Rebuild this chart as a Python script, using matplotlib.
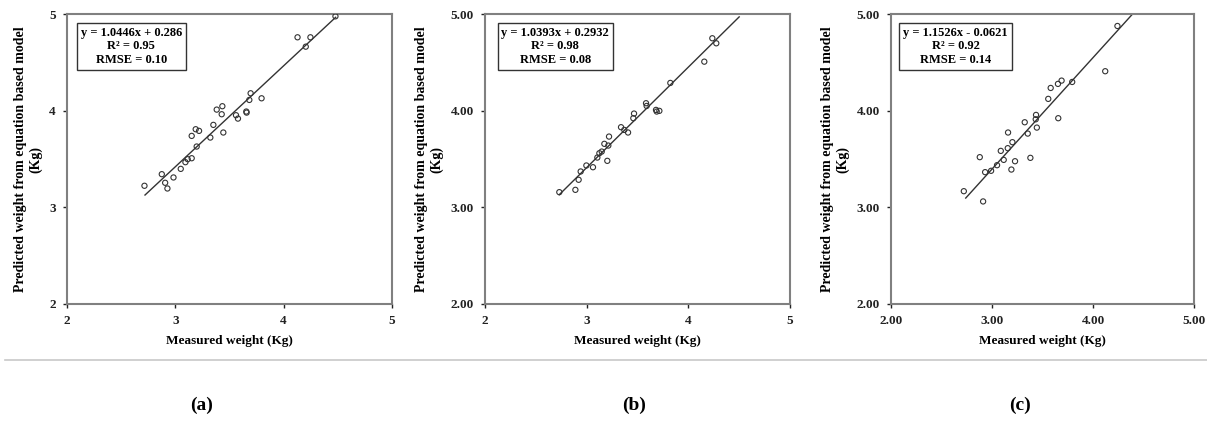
import matplotlib
matplotlib.use("Agg")
import matplotlib.pyplot as plt
from matplotlib.lines import Line2D
from matplotlib.ticker import FormatStrFormatter

plt.rcParams['font.family'] = ['Liberation Serif', 'DejaVu Serif']
plt.rcParams['font.weight'] = 'bold'

# (a) measured vs predicted
meas_a = [2.715, 2.875, 2.906, 2.927, 2.983, 3.050, 3.093, 3.114, 3.151, 3.151,
          3.188, 3.219, 3.197, 3.323, 3.351, 3.382, 3.434, 3.428, 3.443, 3.560,
          3.578, 3.655, 3.658, 3.683, 3.695, 3.796, 4.128, 4.204, 4.247, 4.478]
pred_a = [3.223, 3.343, 3.254, 3.195, 3.309, 3.398, 3.467, 3.498, 3.508, 3.739,
          3.808, 3.791, 3.629, 3.722, 3.853, 4.011, 4.046, 3.963, 3.774, 3.953,
          3.918, 3.991, 3.980, 4.111, 4.180, 4.128, 4.759, 4.662, 4.759, 4.976]

# (b)
meas_b = [2.731, 2.889, 2.921, 2.941, 2.997, 3.062, 3.105, 3.125, 3.148, 3.174,
          3.213, 3.203, 3.220, 3.338, 3.370, 3.407, 3.459, 3.466, 3.584, 3.590,
          3.682, 3.689, 3.715, 3.823, 4.157, 4.236, 4.275]
pred_b = [3.157, 3.181, 3.285, 3.371, 3.433, 3.415, 3.515, 3.560, 3.577, 3.657,
          3.639, 3.481, 3.732, 3.829, 3.801, 3.774, 3.922, 3.970, 4.077, 4.049,
          4.008, 3.991, 3.998, 4.287, 4.507, 4.749, 4.697]

# (c)
meas_c = [2.721, 2.879, 2.912, 2.932, 2.991, 3.050, 3.087, 3.116, 3.156, 3.159,
          3.202, 3.192, 3.228, 3.324, 3.354, 3.380, 3.436, 3.444, 3.433, 3.557,
          3.581, 3.653, 3.656, 3.689, 3.794, 4.121, 4.242]
pred_c = [3.167, 3.519, 3.061, 3.364, 3.378, 3.436, 3.584, 3.491, 3.612, 3.774,
          3.674, 3.391, 3.477, 3.880, 3.763, 3.512, 3.956, 3.825, 3.911, 4.122,
          4.235, 4.277, 3.922, 4.311, 4.297, 4.408, 4.876]

slopes = [1.0446, 1.0393, 1.1526]
intercepts = [0.286, 0.2932, -0.0621]
fit_ranges = [(2.72, 4.48), (2.73, 4.50), (2.74, 4.392)]
box_texts = ["y = 1.0446x + 0.286\nR\u00b2 = 0.95\nRMSE = 0.10",
             "y = 1.0393x + 0.2932\nR\u00b2 = 0.98\nRMSE = 0.08",
             "y = 1.1526x - 0.0621\nR\u00b2 = 0.92\nRMSE = 0.14"]
panel_labels = ["(a)", "(b)", "(c)"]
x_fmt = ["%d", "%d", "%.2f"]
y_fmt = ["%d", "%.2f", "%.2f"]

W, H = 1207, 421
fig = plt.figure(figsize=(W / 100, H / 100), dpi=100)

# pixel layout of the three panels: left, width
lefts = [67, 485, 891]
widths = [325, 305, 303]
box_x = [0.198, 0.23, 0.213]
label_x = [202, 634, 1020]

data = [(meas_a, pred_a), (meas_b, pred_b), (meas_c, pred_c)]

for i in range(3):
    ax = fig.add_axes([lefts[i] / W, (H - 304) / H, widths[i] / W, 290 / H])
    mx, py = data[i]
    ax.scatter(mx, py, s=14, facecolors='none', edgecolors='#333333', linewidths=0.8, zorder=3)
    x0, x1 = fit_ranges[i]
    ax.plot([x0, x1], [slopes[i] * x0 + intercepts[i], slopes[i] * x1 + intercepts[i]],
            color='#333333', lw=1.0, zorder=2)
    ax.set_xlim(2, 5)
    ax.set_ylim(2, 5)
    ax.set_xticks([2, 3, 4, 5])
    ax.set_yticks([2, 3, 4, 5])
    ax.xaxis.set_major_formatter(FormatStrFormatter(x_fmt[i]))
    ax.yaxis.set_major_formatter(FormatStrFormatter(y_fmt[i]))
    ax.tick_params(direction='out', length=3, width=1, colors='#222222', labelsize=9.5, pad=5)
    for sp in ax.spines.values():
        sp.set_color('#808080')
        sp.set_linewidth(1.5)
    ax.set_xlabel("Measured weight (Kg)", fontsize=9.5, fontweight='bold', labelpad=6)
    ax.set_ylabel("Predicted weight from equation based model\n(Kg)", fontsize=10,
                  fontweight='bold', labelpad=5, linespacing=1.2)
    ax.text(box_x[i], 0.955, box_texts[i], transform=ax.transAxes, ha='center', va='top',
            multialignment='center', fontsize=9, fontweight='bold', linespacing=1.15,
            bbox=dict(boxstyle='square,pad=0.3', fc='white', ec='#333333', lw=1.0))
    fig.text(label_x[i] / W, 1 - 405 / H, panel_labels[i], ha='center', va='center',
             fontsize=14, fontweight='bold')

# separator line
fig.add_artist(Line2D([5 / W, 1], [1 - 360 / H, 1 - 360 / H], color='#c8c8c8', lw=1.2))

fig.savefig("out.png", dpi=100, facecolor='white')
